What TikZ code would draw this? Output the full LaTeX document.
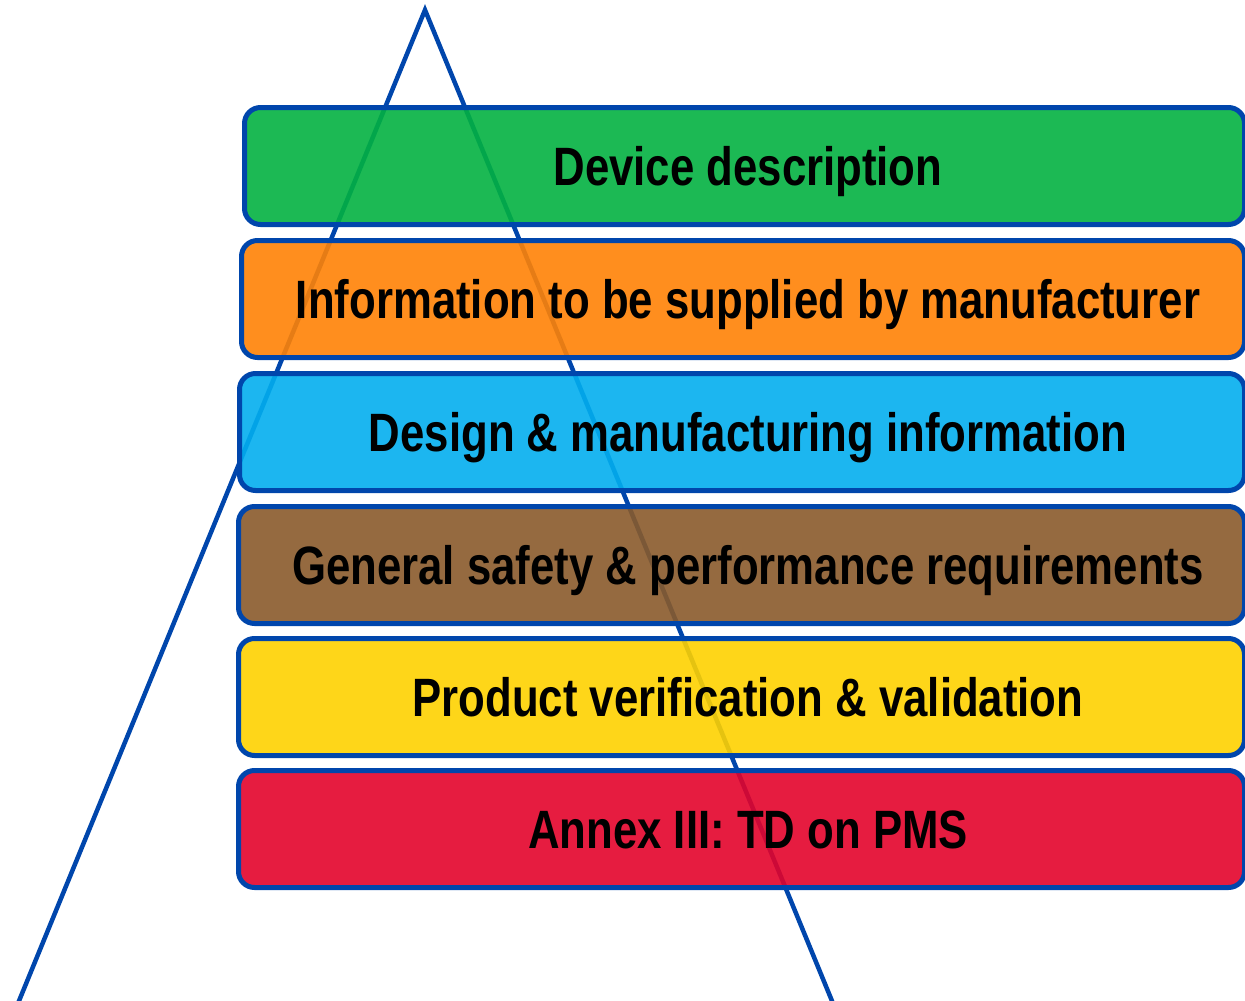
\documentclass[tikz,border=0pt]{standalone}
\usepackage{fontspec}
\newfontfamily\narrowbold{Liberation Sans}[FakeStretch=0.81]
\definecolor{edgeblue}{RGB}{0,70,172}
\definecolor{fgreen}{RGB}{3,177,65}
\definecolor{forange}{RGB}{255,130,5}
\definecolor{fsky}{RGB}{3,174,238}
\definecolor{fbrown}{RGB}{137,90,43}
\definecolor{fyellow}{RGB}{254,209,0}
\definecolor{fred}{RGB}{227,3,43}
\tikzset{
  layer/.style={draw=edgeblue, line width=5pt, rounded corners=16pt,
    fill opacity=0.9, minimum height=117pt, inner sep=0pt},
  lbl/.style={font=\narrowbold\bfseries\fontsize{54}{58}\selectfont, text=black,
    inner sep=0pt, anchor=base},
  outline/.style={draw=edgeblue, line width=4.5pt, line join=miter}
}
\begin{document}
\begin{tikzpicture}[x=1pt,y=-1pt]
  \useasboundingbox (0,0) rectangle (1245,1001);
  \clip (0,0) rectangle (1245,1001);
  % pyramid outline behind the layers
  \coordinate (apex) at (425,10);
  \coordinate (bl) at (12,1018);
  \coordinate (br) at (839,1018);
  \draw[outline] (bl) -- (apex) -- (br);
  % stacked layers: left edge and centre line of each
  \foreach \nm/\lx/\cy/\col/\txt in {
      b1/242/166/fgreen/{Device description},
      b2/239/299/forange/{Information to be supplied by manufacturer},
      b3/237/432/fsky/{Design \& manufacturing information},
      b4/236/565/fbrown/{General safety \& performance requirements},
      b5/236/697/fyellow/{Product verification \& validation},
      b6/236/829/fred/{Annex III: TD on PMS}} {
    \pgfmathsetmacro{\boxw}{1247-\lx-5}
    \pgfmathsetmacro{\boxx}{(1247+\lx)/2}
    \node[layer, fill=\col, minimum width=\boxw pt] (\nm) at (\boxx,\cy) {};
    \node[lbl] (\nm t) at (748,\cy+19) {\txt};
  }
\end{tikzpicture}
\end{document}
